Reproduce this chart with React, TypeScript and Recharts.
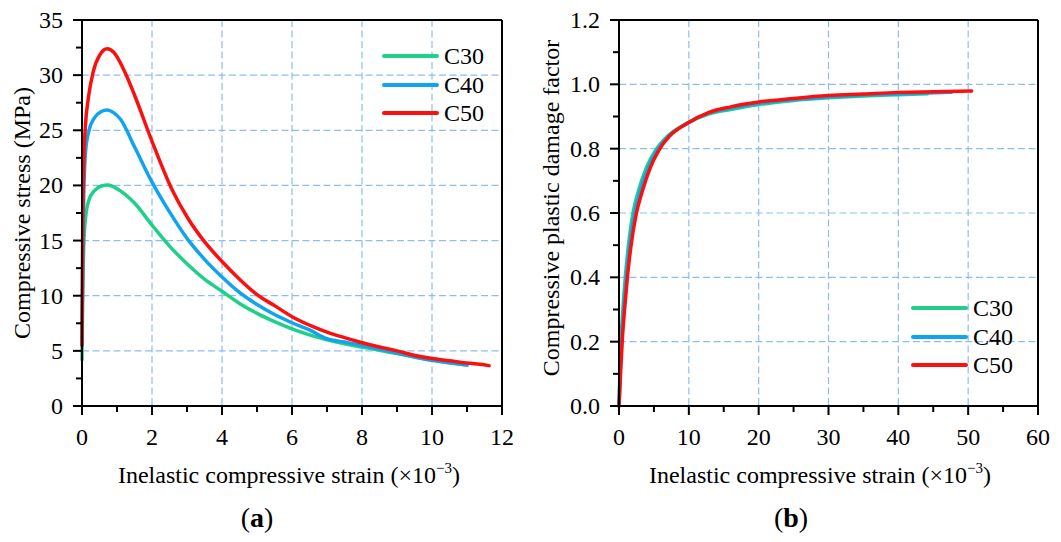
import React from 'react';
import {
  LineChart,
  Line,
  XAxis,
  YAxis,
  CartesianGrid,
  ReferenceLine,
  Legend,
} from 'recharts';

// (a) compressive stress vs inelastic strain (x10^-3)
const stressC30 = [
  { x: 0, y: 4.2 }, { x: 0.02, y: 10 }, { x: 0.05, y: 14.5 }, { x: 0.1, y: 17.0 },
  { x: 0.2, y: 18.7 }, { x: 0.35, y: 19.5 }, { x: 0.55, y: 19.95 }, { x: 0.75, y: 20.05 },
  { x: 1.0, y: 19.7 }, { x: 1.5, y: 18.4 }, { x: 2.0, y: 16.4 }, { x: 2.5, y: 14.5 },
  { x: 3.0, y: 12.9 }, { x: 3.5, y: 11.5 }, { x: 4.0, y: 10.4 }, { x: 4.5, y: 9.3 },
  { x: 5.0, y: 8.4 }, { x: 5.5, y: 7.65 }, { x: 6.0, y: 7.0 }, { x: 6.5, y: 6.45 },
  { x: 7.0, y: 6.0 }, { x: 7.5, y: 5.65 }, { x: 8.0, y: 5.35 }, { x: 8.5, y: 5.05 },
  { x: 9.0, y: 4.75 }, { x: 9.5, y: 4.45 }, { x: 10.0, y: 4.15 }, { x: 10.5, y: 3.93 },
  { x: 11.0, y: 3.72 },
];
const stressC40 = [
  { x: 0, y: 5.5 }, { x: 0.02, y: 13 }, { x: 0.05, y: 19 }, { x: 0.1, y: 23.0 },
  { x: 0.2, y: 25.0 }, { x: 0.35, y: 26.1 }, { x: 0.55, y: 26.7 }, { x: 0.72, y: 26.85 },
  { x: 0.9, y: 26.6 }, { x: 1.1, y: 26.0 }, { x: 1.5, y: 23.5 }, { x: 2.0, y: 20.3 },
  { x: 2.5, y: 17.6 }, { x: 3.0, y: 15.2 }, { x: 3.5, y: 13.3 }, { x: 4.0, y: 11.7 },
  { x: 4.5, y: 10.3 }, { x: 5.0, y: 9.2 }, { x: 5.5, y: 8.3 }, { x: 6.0, y: 7.55 },
  { x: 6.5, y: 6.9 }, { x: 7.0, y: 6.1 }, { x: 7.5, y: 5.8 }, { x: 8.0, y: 5.5 },
  { x: 8.5, y: 5.15 }, { x: 9.0, y: 4.8 }, { x: 9.5, y: 4.45 }, { x: 10.0, y: 4.15 },
  { x: 10.5, y: 3.93 }, { x: 11.0, y: 3.72 },
];
const stressC50 = [
  { x: 0, y: 5.5 }, { x: 0.02, y: 16 }, { x: 0.05, y: 22 }, { x: 0.1, y: 25.5 },
  { x: 0.18, y: 27.9 }, { x: 0.32, y: 30.3 }, { x: 0.5, y: 31.8 }, { x: 0.72, y: 32.4 },
  { x: 0.9, y: 32.1 }, { x: 1.03, y: 31.5 }, { x: 1.25, y: 30.1 }, { x: 1.5, y: 28.2 },
  { x: 2.0, y: 24.0 }, { x: 2.56, y: 19.7 }, { x: 3.03, y: 17.0 }, { x: 3.5, y: 14.9 },
  { x: 4.0, y: 13.1 }, { x: 4.5, y: 11.5 }, { x: 5.0, y: 10.1 }, { x: 5.5, y: 9.1 },
  { x: 6.0, y: 8.1 }, { x: 6.6, y: 7.2 }, { x: 7.0, y: 6.7 }, { x: 7.5, y: 6.2 },
  { x: 7.9, y: 5.83 }, { x: 8.5, y: 5.35 }, { x: 9.0, y: 5.0 }, { x: 9.45, y: 4.62 },
  { x: 10.0, y: 4.3 }, { x: 10.5, y: 4.1 }, { x: 10.9, y: 3.93 }, { x: 11.3, y: 3.8 },
  { x: 11.63, y: 3.66 },
];

// (b) compressive plastic damage factor vs inelastic strain (x10^-3)
const damageC30 = [
  { x: 0, y: 0 }, { x: 0.12, y: 0.1 }, { x: 0.3, y: 0.205 }, { x: 0.55, y: 0.3 },
  { x: 0.9, y: 0.4 }, { x: 1.35, y: 0.5 }, { x: 2.0, y: 0.6 }, { x: 2.8, y: 0.67 },
  { x: 4.0, y: 0.745 }, { x: 5.3, y: 0.797 }, { x: 6.9, y: 0.838 }, { x: 9.6, y: 0.877 },
  { x: 12.9, y: 0.908 }, { x: 16, y: 0.922 }, { x: 20, y: 0.937 }, { x: 25, y: 0.95 },
  { x: 30, y: 0.958 }, { x: 35, y: 0.964 }, { x: 40, y: 0.968 }, { x: 44.2, y: 0.971 },
];
const damageC40 = [
  { x: 0, y: 0 }, { x: 0.17, y: 0.1 }, { x: 0.38, y: 0.205 }, { x: 0.67, y: 0.3 },
  { x: 1.05, y: 0.4 }, { x: 1.5, y: 0.497 }, { x: 2.25, y: 0.6 }, { x: 3.05, y: 0.668 },
  { x: 4.25, y: 0.744 }, { x: 5.5, y: 0.796 }, { x: 7.05, y: 0.838 }, { x: 9.7, y: 0.878 },
  { x: 12.9, y: 0.911 }, { x: 16, y: 0.926 }, { x: 20, y: 0.941 }, { x: 25, y: 0.953 },
  { x: 30, y: 0.961 }, { x: 35, y: 0.967 }, { x: 40, y: 0.971 }, { x: 44, y: 0.973 },
  { x: 47.6, y: 0.975 },
];
const damageC50 = [
  { x: 0, y: 0 }, { x: 0.22, y: 0.1 }, { x: 0.47, y: 0.205 }, { x: 0.8, y: 0.3 },
  { x: 1.2, y: 0.4 }, { x: 1.7, y: 0.495 }, { x: 2.5, y: 0.6 }, { x: 3.3, y: 0.665 },
  { x: 4.5, y: 0.742 }, { x: 5.7, y: 0.795 }, { x: 7.2, y: 0.838 }, { x: 9.8, y: 0.879 },
  { x: 12.9, y: 0.913 }, { x: 16, y: 0.93 }, { x: 20, y: 0.945 }, { x: 25, y: 0.956 },
  { x: 30, y: 0.965 }, { x: 35, y: 0.97 }, { x: 40, y: 0.975 }, { x: 45, y: 0.977 },
  { x: 50.5, y: 0.979 },
];

// ticks (all, incl. minor) and the labelled major ones
const strainTicksA = [0, 1, 2, 3, 4, 5, 6, 7, 8, 9, 10, 11, 12];
const strainMajorA = [0, 2, 4, 6, 8, 10, 12];
const stressTicks = [0, 2.5, 5, 7.5, 10, 12.5, 15, 17.5, 20, 22.5, 25, 27.5, 30, 32.5, 35];
const stressMajor = [0, 5, 10, 15, 20, 25, 30, 35];
const strainTicksB = [0, 5, 10, 15, 20, 25, 30, 35, 40, 45, 50, 55, 60];
const strainMajorB = [0, 10, 20, 30, 40, 50, 60];
const damageTicks = [0, 0.1, 0.2, 0.3, 0.4, 0.5, 0.6, 0.7, 0.8, 0.9, 1.0, 1.1, 1.2];
const damageMajor = [0, 0.2, 0.4, 0.6, 0.8, 1.0, 1.2];

const COLORS = { C30: '#1fcf8a', C40: '#12a3ef', C50: '#fb1010' };
const FONT = '"Liberation Serif", "Times New Roman", serif';
const GRID = '#8dbdf3';
const AXIS = { stroke: '#000', strokeWidth: 2 };

// tick marks drawn as filled rects, labels only on the major ticks
const XTick = (props: any) => {
  const { x, y, payload, majors, fmt } = props;
  const v = payload.value;
  const major = majors.some((m: number) => Math.abs(m - v) < 1e-6);
  return (
    <g>
      <rect x={x - 1} y={y} width={2} height={major ? 9 : 6} fill="#000" />
      {major && (
        <text x={x} y={y + 39} textAnchor="middle" fontSize={24} fontFamily={FONT} fill="#000">
          {fmt(v)}
        </text>
      )}
    </g>
  );
};

const YTick = (props: any) => {
  const { x, y, payload, majors, fmt } = props;
  const v = payload.value;
  const major = majors.some((m: number) => Math.abs(m - v) < 1e-6);
  const len = major ? 9 : 6;
  return (
    <g>
      <rect x={x - len} y={y - 1} width={len} height={2} fill="#000" />
      {major && (
        <text x={x - 19} y={y + 8} textAnchor="end" fontSize={24} fontFamily={FONT} fill="#000">
          {fmt(v)}
        </text>
      )}
    </g>
  );
};

// x-axis title plus the panel caption underneath
const XTitle = ({ tx, capX, caption }: any) => (
  <g>
    <text x={tx} y={483} textAnchor="middle" fontSize={24} fontFamily={FONT} fill="#000">
      Inelastic compressive strain (×10
      <tspan fontSize={15} dy={-10}>−3</tspan>
      <tspan dy={10}>)</tspan>
    </text>
    <text x={capX} y={527} textAnchor="middle" fontSize={28} fontFamily={FONT} fill="#000">
      (<tspan fontWeight="bold">{caption}</tspan>)
    </text>
  </g>
);

const YTitle = ({ lx, ly, text }: any) => (
  <text
    x={lx}
    y={ly}
    transform={`rotate(-90 ${lx} ${ly})`}
    textAnchor="middle"
    fontSize={24}
    fontFamily={FONT}
    fill="#000"
  >
    {text}
  </text>
);

const LegendBox = ({ payload }: any) => (
  <div style={{ fontFamily: FONT, fontSize: 24 }}>
    {(payload || []).map((p: any) => (
      <div key={p.value} style={{ display: 'flex', alignItems: 'center', height: 28.5 }}>
        <div style={{ width: 57, height: 4, borderRadius: 2, background: p.color, marginRight: 5 }} />
        <span style={{ lineHeight: '28.5px', color: '#000' }}>{p.value}</span>
      </div>
    ))}
  </div>
);

const fmtInt = (v: number) => String(v);
const fmtOne = (v: number) => v.toFixed(1);

const lineProps = {
  type: 'monotone' as const,
  dataKey: 'y',
  dot: false,
  strokeWidth: 3.5,
  strokeLinecap: 'round' as const,
  isAnimationActive: false,
};

export default function App() {
  return (
    <div style={{ position: 'fixed', left: 0, top: 0, width: 1061, height: 542, background: '#fff' }}>
      <div style={{ position: 'absolute', left: 0, top: 0 }}>
        <LineChart width={530} height={542} margin={{ top: 20, right: 28, bottom: 96, left: 0 }}>
          <CartesianGrid
            stroke={GRID}
            strokeWidth={1.2}
            strokeDasharray="7 3.5"
            verticalValues={[2, 4, 6, 8, 10]}
            horizontalValues={[5, 10, 15, 20, 25, 30]}
          />
          {/* plot frame */}
          <CartesianGrid stroke="#000" strokeWidth={2} verticalValues={[0, 12]} horizontalValues={[0, 35]} />
          <XAxis
            type="number"
            dataKey="x"
            domain={[0, 12]}
            ticks={strainTicksA}
            height={40}
            tickSize={0}
            tickMargin={0}
            tickLine={false}
            axisLine={AXIS}
            tick={<XTick majors={strainMajorA} fmt={fmtInt} />}
            interval={0}
            label={<XTitle tx={289} capX={257} caption="a" />}
          />
          <YAxis
            type="number"
            domain={[0, 35]}
            ticks={stressTicks}
            width={82}
            tickSize={0}
            tickMargin={0}
            tickLine={false}
            axisLine={AXIS}
            tick={<YTick majors={stressMajor} fmt={fmtInt} />}
            interval={0}
            label={<YTitle lx={30} ly={213} text="Compressive stress (MPa)" />}
          />
          <ReferenceLine y={35} stroke="#000" strokeWidth={2} />
          <ReferenceLine x={12} stroke="#000" strokeWidth={2} />
          <Line {...lineProps} data={stressC30} name="C30" stroke={COLORS.C30} />
          <Line {...lineProps} data={stressC40} name="C40" stroke={COLORS.C40} />
          <Line {...lineProps} data={stressC50} name="C50" stroke={COLORS.C50} />
          <Legend
            layout="vertical"
            align="center"
            verticalAlign="middle"
            content={<LegendBox />}
            wrapperStyle={{ left: 382, top: 42, width: 'auto', height: 'auto' }}
          />
        </LineChart>
      </div>
      <div style={{ position: 'absolute', left: 530, top: 0 }}>
        <LineChart width={531} height={542} margin={{ top: 20, right: 23, bottom: 96, left: 0 }}>
          <CartesianGrid
            stroke={GRID}
            strokeWidth={1.2}
            strokeDasharray="7 3.5"
            verticalValues={[10, 20, 30, 40, 50]}
            horizontalValues={[0.2, 0.4, 0.6, 0.8, 1.0]}
          />
          {/* plot frame */}
          <CartesianGrid stroke="#000" strokeWidth={2} verticalValues={[0, 60]} horizontalValues={[0, 1.2]} />
          <XAxis
            type="number"
            dataKey="x"
            domain={[0, 60]}
            ticks={strainTicksB}
            height={40}
            tickSize={0}
            tickMargin={0}
            tickLine={false}
            axisLine={AXIS}
            tick={<XTick majors={strainMajorB} fmt={fmtInt} />}
            interval={0}
            label={<XTitle tx={290} capX={261} caption="b" />}
          />
          <YAxis
            type="number"
            domain={[0, 1.2]}
            ticks={damageTicks}
            width={89}
            tickSize={0}
            tickMargin={0}
            tickLine={false}
            axisLine={AXIS}
            tick={<YTick majors={damageMajor} fmt={fmtOne} />}
            interval={0}
            label={<YTitle lx={29} ly={208} text="Compressive plastic damage factor" />}
          />
          <ReferenceLine y={1.2} stroke="#000" strokeWidth={2} />
          <ReferenceLine x={60} stroke="#000" strokeWidth={2} />
          <Line {...lineProps} data={damageC30} name="C30" stroke={COLORS.C30} />
          <Line {...lineProps} data={damageC40} name="C40" stroke={COLORS.C40} />
          <Line {...lineProps} data={damageC50} name="C50" stroke={COLORS.C50} />
          <Legend
            layout="vertical"
            align="center"
            verticalAlign="middle"
            content={<LegendBox />}
            wrapperStyle={{ left: 381, top: 294, width: 'auto', height: 'auto' }}
          />
        </LineChart>
      </div>
    </div>
  );
}
